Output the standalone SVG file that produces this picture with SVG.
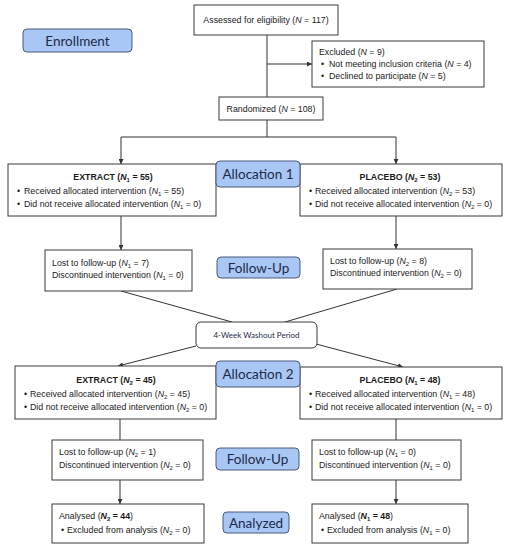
<svg xmlns="http://www.w3.org/2000/svg" width="509" height="550" viewBox="0 0 509 550">
<style>
.box{fill:#fff;stroke:#3a3a3a;stroke-width:1}
.pill{fill:#a9c7f5;stroke:#4a5a78;stroke-width:1}
.pt{font-family:Lato,"Open Sans",sans-serif;fill:#1c2a48;text-anchor:middle}
.t{font-family:"Liberation Sans",Arial,sans-serif;font-size:8.8px;fill:#1a1a1a}
.b{font-weight:bold}
.c{text-anchor:middle}
.ln{stroke:#333;stroke-width:1;fill:none}
.s{font-size:6px}
</style>
<defs>
<marker id="ah" viewBox="0 0 6 6" refX="6" refY="3" markerWidth="5" markerHeight="5" orient="auto">
<path d="M0,0 L6,3 L0,6 z" fill="#333"/>
</marker>
</defs>
<rect width="509" height="550" fill="#fff"/>
<g id="connectors">
<line class="ln" x1="267" y1="35" x2="267" y2="97"/>
<line class="ln" x1="267" y1="64" x2="312" y2="64" marker-end="url(#ah)"/>
<line class="ln" x1="267" y1="120" x2="267" y2="137"/>
<line class="ln" x1="121" y1="137" x2="396" y2="137"/>
<line class="ln" x1="121" y1="137" x2="121" y2="164" marker-end="url(#ah)"/>
<line class="ln" x1="396" y1="137" x2="396" y2="164" marker-end="url(#ah)"/>
<line class="ln" x1="121" y1="216" x2="121" y2="250" marker-end="url(#ah)"/>
<line class="ln" x1="396" y1="216" x2="396" y2="249" marker-end="url(#ah)"/>
<line class="ln" x1="121" y1="291" x2="232" y2="322"/>
<line class="ln" x1="397" y1="289" x2="285" y2="322"/>
<line class="ln" x1="196" y1="346" x2="118" y2="366" marker-end="url(#ah)"/>
<line class="ln" x1="316" y1="344" x2="403" y2="367" marker-end="url(#ah)"/>
<line class="ln" x1="120" y1="419" x2="120" y2="440"/>
<line class="ln" x1="396" y1="419" x2="396" y2="440"/>
<line class="ln" x1="120" y1="480" x2="120" y2="504" marker-end="url(#ah)"/>
<line class="ln" x1="396" y1="480" x2="396" y2="504" marker-end="url(#ah)"/>
</g>
<g id="assessed">
<rect class="box" x="194" y="5" width="144" height="30"/>
<text class="t c" x="266" y="23">Assessed for eligibility (<tspan font-style="italic">N</tspan> = 117)</text>
</g>
<g id="excluded">
<rect class="box" x="312" y="41" width="172" height="46"/>
<text class="t" x="319" y="55">Excluded (<tspan font-style="italic">N</tspan> = 9)</text>
<text class="t" x="321" y="67">•</text>
<text class="t" x="329" y="67">Not meeting inclusion criteria (<tspan font-style="italic">N</tspan> = 4)</text>
<text class="t" x="321" y="79">•</text>
<text class="t" x="329" y="79">Declined to participate (<tspan font-style="italic">N</tspan> = 5)</text>
</g>
<g id="randomized">
<rect class="box" x="219" y="97" width="104" height="23"/>
<text class="t c" x="271" y="111.5">Randomized (<tspan font-style="italic">N</tspan> = 108)</text>
</g>
<g id="enrollment">
<rect class="pill" x="23" y="29" width="109" height="23" rx="4"/>
<text class="pt" x="77.5" y="45.5" font-size="13.5">Enrollment</text>
</g>
<g id="extract1">
<rect class="box" x="8" y="164" width="208" height="52"/>
<text class="t b c" x="113" y="180">EXTRACT (<tspan font-style="italic">N</tspan><tspan class="s" dy="1.5">1</tspan><tspan dy="-1.5"> = 55)</tspan></text>
<text class="t" x="17" y="194">•</text>
<text class="t" x="24" y="194">Received allocated intervention (<tspan font-style="italic">N</tspan><tspan class="s" dy="1.5">1</tspan><tspan dy="-1.5"> = 55)</tspan></text>
<text class="t" x="17" y="207">•</text>
<text class="t" x="24" y="207">Did not receive allocated intervention (<tspan font-style="italic">N</tspan><tspan class="s" dy="1.5">1</tspan><tspan dy="-1.5"> = 0)</tspan></text>
</g>
<g id="placebo1">
<rect class="box" x="300" y="164" width="202" height="52"/>
<text class="t b c" x="400" y="180">PLACEBO (<tspan font-style="italic">N</tspan><tspan class="s" dy="1.5">2</tspan><tspan dy="-1.5"> = 53)</tspan></text>
<text class="t" x="309" y="194">•</text>
<text class="t" x="315" y="194">Received allocated intervention (<tspan font-style="italic">N</tspan><tspan class="s" dy="1.5">2</tspan><tspan dy="-1.5"> = 53)</tspan></text>
<text class="t" x="309" y="207">•</text>
<text class="t" x="315" y="207">Did not receive allocated intervention (<tspan font-style="italic">N</tspan><tspan class="s" dy="1.5">2</tspan><tspan dy="-1.5"> = 0)</tspan></text>
</g>
<g id="allocation1">
<rect class="pill" x="216" y="161" width="84" height="26" rx="4"/>
<text class="pt" x="258" y="179" font-size="13.5">Allocation 1</text>
</g>
<g id="lost1">
<rect class="box" x="45" y="250" width="147" height="41"/>
<text class="t" x="52" y="266">Lost to follow-up (<tspan font-style="italic">N</tspan><tspan class="s" dy="1.5">1</tspan><tspan dy="-1.5"> = 7)</tspan></text>
<text class="t" x="52" y="278">Discontinued intervention (<tspan font-style="italic">N</tspan><tspan class="s" dy="1.5">1</tspan><tspan dy="-1.5"> = 0)</tspan></text>
</g>
<g id="lost2">
<rect class="box" x="323" y="249" width="149" height="40"/>
<text class="t" x="330" y="264">Lost to follow-up (<tspan font-style="italic">N</tspan><tspan class="s" dy="1.5">2</tspan><tspan dy="-1.5"> = 8)</tspan></text>
<text class="t" x="330" y="276">Discontinued intervention (<tspan font-style="italic">N</tspan><tspan class="s" dy="1.5">2</tspan><tspan dy="-1.5"> = 0)</tspan></text>
</g>
<g id="followup1">
<rect class="pill" x="217" y="257" width="83" height="21" rx="4"/>
<text class="pt" x="258.5" y="272.5" font-size="13.5">Follow-Up</text>
</g>
<g id="washout">
<rect class="box" x="196" y="322" width="121" height="26" rx="5"/>
<text class="pt" x="256.5" y="338" font-size="8" fill="#222">4-Week Washout Period</text>
</g>
<g id="extract2">
<rect class="box" x="15" y="366" width="201" height="53"/>
<text class="t b c" x="116" y="383">EXTRACT (<tspan font-style="italic">N</tspan><tspan class="s" dy="1.5">2</tspan><tspan dy="-1.5"> = 45)</tspan></text>
<text class="t" x="24" y="397">•</text>
<text class="t" x="30" y="397">Received allocated intervention (<tspan font-style="italic">N</tspan><tspan class="s" dy="1.5">2</tspan><tspan dy="-1.5"> = 45)</tspan></text>
<text class="t" x="24" y="410">•</text>
<text class="t" x="30" y="410">Did not receive allocated intervention (<tspan font-style="italic">N</tspan><tspan class="s" dy="1.5">2</tspan><tspan dy="-1.5"> = 0)</tspan></text>
</g>
<g id="placebo2">
<rect class="box" x="300" y="367" width="202" height="52"/>
<text class="t b c" x="400" y="383">PLACEBO (<tspan font-style="italic">N</tspan><tspan class="s" dy="1.5">1</tspan><tspan dy="-1.5"> = 48)</tspan></text>
<text class="t" x="309" y="397">•</text>
<text class="t" x="315" y="397">Received allocated intervention (<tspan font-style="italic">N</tspan><tspan class="s" dy="1.5">1</tspan><tspan dy="-1.5"> = 48)</tspan></text>
<text class="t" x="309" y="410">•</text>
<text class="t" x="315" y="410">Did not receive allocated intervention (<tspan font-style="italic">N</tspan><tspan class="s" dy="1.5">1</tspan><tspan dy="-1.5"> = 0)</tspan></text>
</g>
<g id="allocation2">
<rect class="pill" x="216" y="361" width="84" height="26" rx="4"/>
<text class="pt" x="258" y="379" font-size="13.5">Allocation 2</text>
</g>
<g id="lost3">
<rect class="box" x="52" y="440" width="151" height="40"/>
<text class="t" x="59" y="455">Lost to follow-up (<tspan font-style="italic">N</tspan><tspan class="s" dy="1.5">2</tspan><tspan dy="-1.5"> = 1)</tspan></text>
<text class="t" x="59" y="468">Discontinued intervention (<tspan font-style="italic">N</tspan><tspan class="s" dy="1.5">2</tspan><tspan dy="-1.5"> = 0)</tspan></text>
</g>
<g id="lost4">
<rect class="box" x="312" y="440" width="149" height="40"/>
<text class="t" x="319" y="455">Lost to follow-up (<tspan font-style="italic">N</tspan><tspan class="s" dy="1.5">1</tspan><tspan dy="-1.5"> = 0)</tspan></text>
<text class="t" x="319" y="468">Discontinued intervention (<tspan font-style="italic">N</tspan><tspan class="s" dy="1.5">1</tspan><tspan dy="-1.5"> = 0)</tspan></text>
</g>
<g id="followup2">
<rect class="pill" x="216" y="448" width="83" height="22" rx="4"/>
<text class="pt" x="257.5" y="464" font-size="13.5">Follow-Up</text>
</g>
<g id="analysed1">
<rect class="box" x="52" y="504" width="152" height="39"/>
<text class="t" x="59" y="519">Analysed (<tspan class="b" font-style="italic">N</tspan><tspan class="s b" dy="1.5">2</tspan><tspan class="b" dy="-1.5"> = 44</tspan>)</text>
<text class="t" x="61" y="533">•</text>
<text class="t" x="67" y="533">Excluded from analysis (<tspan font-style="italic">N</tspan><tspan class="s" dy="1.5">2</tspan><tspan dy="-1.5"> = 0)</tspan></text>
</g>
<g id="analysed2">
<rect class="box" x="312" y="504" width="156" height="39"/>
<text class="t" x="319" y="519">Analysed (<tspan class="b" font-style="italic">N</tspan><tspan class="s b" dy="1.5">1</tspan><tspan class="b" dy="-1.5"> = 48</tspan>)</text>
<text class="t" x="321" y="533">•</text>
<text class="t" x="327" y="533">Excluded from analysis (<tspan font-style="italic">N</tspan><tspan class="s" dy="1.5">1</tspan><tspan dy="-1.5"> = 0)</tspan></text>
</g>
<g id="analyzed">
<rect class="pill" x="223" y="512" width="66" height="21" rx="4"/>
<text class="pt" x="256" y="527.5" font-size="13.5">Analyzed</text>
</g>
</svg>
